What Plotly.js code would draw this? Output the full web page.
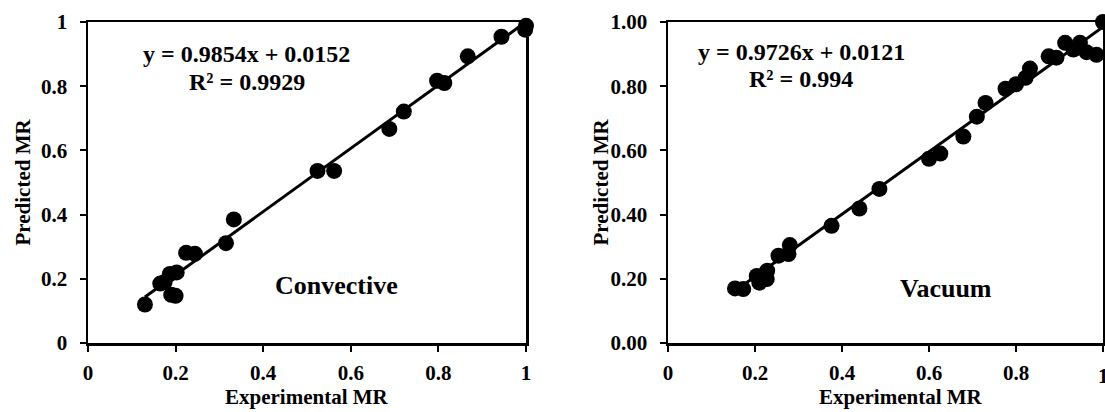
<!DOCTYPE html>
<html>
<head>
<meta charset="utf-8">
<script src="https://cdn.plot.ly/plotly-3.0.1.min.js"></script>
<style>html,body{margin:0;padding:0;background:#fff;}#chart{width:1105px;height:412px;}</style>
</head>
<body>
<div id="chart"></div>
<script>
// Convective drying: experimental vs predicted moisture ratio
const convExp  = [0.13, 0.165, 0.175, 0.187, 0.2025, 0.19, 0.2, 0.224, 0.244, 0.315, 0.333, 0.524, 0.562, 0.688, 0.721, 0.797, 0.8135, 0.867, 0.944, 1.0, 0.998];
const convPred = [0.12, 0.185, 0.19, 0.215, 0.22, 0.15, 0.147, 0.281, 0.278, 0.311, 0.385, 0.536, 0.536, 0.667, 0.721, 0.817, 0.81, 0.893, 0.954, 0.988, 0.976];
// Vacuum drying
const vacExp  = [0.154, 0.173, 0.204, 0.21, 0.227, 0.228, 0.254, 0.277, 0.280, 0.376, 0.440, 0.486, 0.600, 0.626, 0.679, 0.71, 0.73, 0.776, 0.800, 0.822, 0.832, 0.875, 0.893, 0.913, 0.932, 0.947, 0.962, 0.985, 1.0];
const vacPred = [0.170, 0.168, 0.209, 0.188, 0.199, 0.225, 0.272, 0.277, 0.305, 0.365, 0.419, 0.480, 0.574, 0.590, 0.643, 0.705, 0.748, 0.792, 0.806, 0.826, 0.855, 0.893, 0.889, 0.935, 0.914, 0.935, 0.906, 0.898, 1.0];
// Linear fits reported on the chart
const convFit = {slope: 0.9854, intercept: 0.0152, r2: '0.9929'};
const vacFit  = {slope: 0.9726, intercept: 0.0121, r2: '0.994'};
const xTickVals = [0, 0.2, 0.4, 0.6, 0.8, 1];
const yTickVals = [0, 0.2, 0.4, 0.6, 0.8, 1];
const panelLabels = ['Convective', 'Vacuum'];
const xTitle = 'Experimental MR';
const yTitle = 'Predicted MR';

function fitLine(xs, fit) {
  const lo = Math.min(...xs), hi = Math.max(...xs);
  return {x: [lo, hi], y: [fit.slope * lo + fit.intercept, fit.slope * hi + fit.intercept]};
}
const cl = fitLine(convExp, convFit);
const vl = fitLine(vacExp, vacFit);

const FONT = 'Liberation Serif, Times New Roman, serif';
const mk = {size: 16, color: '#000'};
const traces = [
  {x: cl.x, y: cl.y, mode: 'lines', line: {color: '#000', width: 3}, xaxis: 'x', yaxis: 'y', cliponaxis: false, hoverinfo: 'skip'},
  {x: convExp, y: convPred, mode: 'markers', marker: mk, xaxis: 'x', yaxis: 'y', cliponaxis: false},
  {x: vl.x, y: vl.y, mode: 'lines', line: {color: '#000', width: 3}, xaxis: 'x2', yaxis: 'y2', cliponaxis: false, hoverinfo: 'skip'},
  {x: vacExp, y: vacPred, mode: 'markers', marker: mk, xaxis: 'x2', yaxis: 'y2', cliponaxis: false}
];

function ax(extra) {
  return Object.assign({
    range: [0, 1], showgrid: false, zeroline: false,
    showline: true, mirror: true, linecolor: '#000', linewidth: 2.5,
    ticks: 'outside', ticklen: 6, tickwidth: 2, tickcolor: '#000',
    tickfont: {family: FONT, size: 21, color: '#000', weight: 'bold'},
    ticklabelstandoff: 8, fixedrange: true
  }, extra);
}

const W = 1105;
const bold = (size) => ({family: FONT, size: size, color: '#000', weight: 'bold'});
const layout = {
  width: W, height: 412,
  margin: {l: 0, r: 0, t: 22, b: 69},
  paper_bgcolor: '#fff', plot_bgcolor: '#fff',
  showlegend: false,
  xaxis:  ax({domain: [88 / W, 526 / W], tickvals: xTickVals, anchor: 'y', ticklabelstandoff: 3}),
  yaxis:  ax({domain: [0, 1], tickvals: yTickVals, anchor: 'x'}),
  xaxis2: ax({domain: [668 / W, 1103 / W], tickvals: xTickVals, anchor: 'y2', ticklabelstandoff: 3}),
  yaxis2: ax({domain: [0, 1], tickvals: yTickVals, tickformat: '.2f', anchor: 'x2'}),
  annotations: [
    {xref: 'paper', yref: 'paper', x: 307 / W, y: 0, yshift: -68, text: xTitle, showarrow: false, font: bold(21), xanchor: 'center', yanchor: 'bottom'},
    {xref: 'paper', yref: 'paper', x: 901 / W, y: 0, yshift: -68, text: xTitle, showarrow: false, font: bold(21), xanchor: 'center', yanchor: 'bottom'},
    {xref: 'paper', yref: 'paper', x: 22 / W, y: 0.5, text: yTitle, textangle: -90, showarrow: false, font: bold(21), xanchor: 'center', yanchor: 'middle'},
    {xref: 'paper', yref: 'paper', x: 600 / W, y: 0.5, text: yTitle, textangle: -90, showarrow: false, font: bold(21), xanchor: 'center', yanchor: 'middle'},
    {xref: 'x2', yref: 'y2 domain', x: 1, y: 0, yshift: -19, text: '1', showarrow: false, font: bold(21), xanchor: 'center', yanchor: 'top'},
    {xref: 'x domain', yref: 'y domain', x: 0.362, y: 0.899, text: 'y = ' + convFit.slope + 'x + ' + convFit.intercept, showarrow: false, font: bold(24), xanchor: 'center', yanchor: 'middle'},
    {xref: 'x domain', yref: 'y domain', x: 0.362, y: 0.814, text: 'R² = ' + convFit.r2, showarrow: false, font: bold(24), xanchor: 'center', yanchor: 'middle'},
    {xref: 'x2 domain', yref: 'y2 domain', x: 0.306, y: 0.906, text: 'y = ' + vacFit.slope + 'x + ' + vacFit.intercept, showarrow: false, font: bold(24), xanchor: 'center', yanchor: 'middle'},
    {xref: 'x2 domain', yref: 'y2 domain', x: 0.306, y: 0.821, text: 'R² = ' + vacFit.r2, showarrow: false, font: bold(24), xanchor: 'center', yanchor: 'middle'},
    {xref: 'x domain', yref: 'y domain', x: 0.568, y: 0.18, text: panelLabels[0], showarrow: false, font: bold(26), xanchor: 'center', yanchor: 'middle'},
    {xref: 'x2 domain', yref: 'y2 domain', x: 0.639, y: 0.17, text: panelLabels[1], showarrow: false, font: bold(26), xanchor: 'center', yanchor: 'middle'}
  ]
};
Plotly.newPlot('chart', traces, layout, {displayModeBar: false, staticPlot: true});
</script>
</body>
</html>
